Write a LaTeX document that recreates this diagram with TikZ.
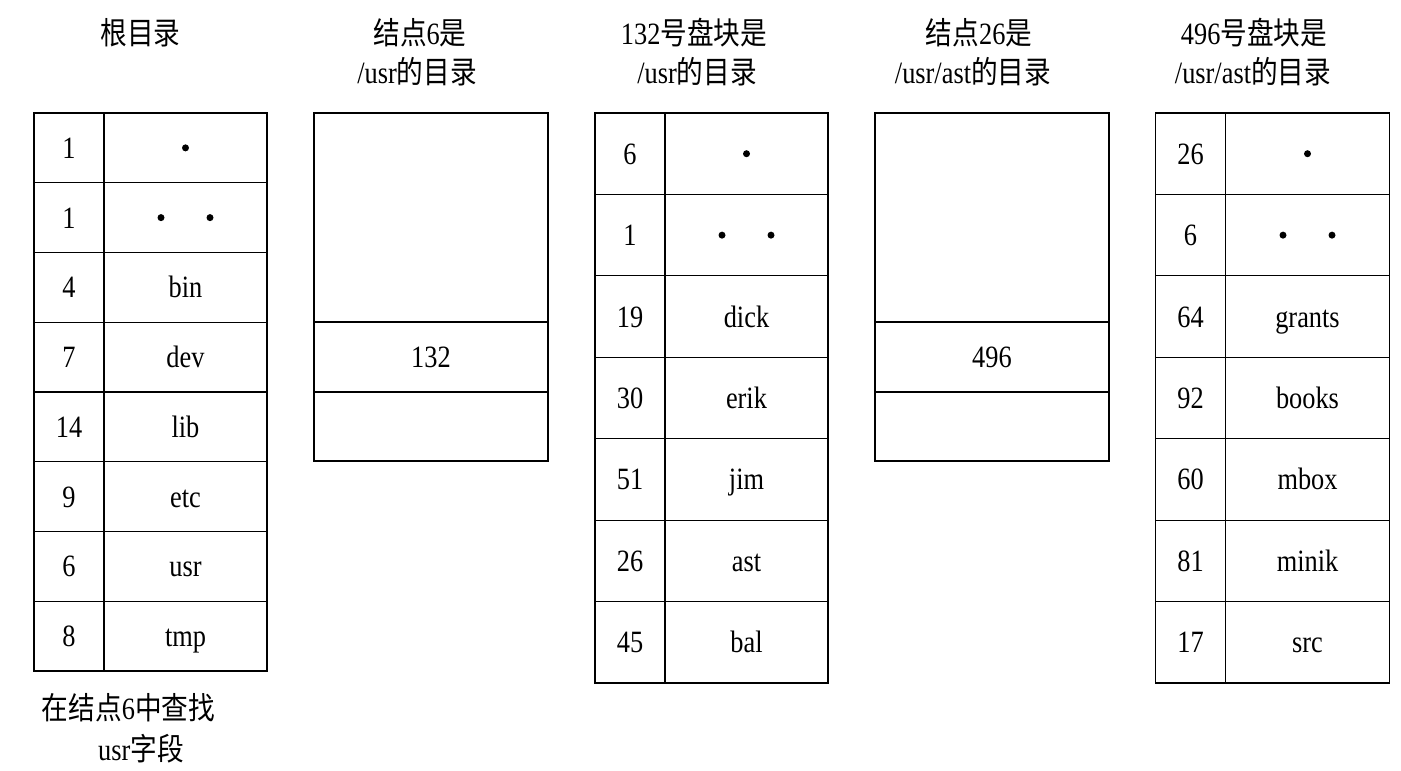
\documentclass[tikz,border=0pt]{standalone}
\usepackage{fontspec}
\setmainfont{Liberation Serif}[FakeStretch=0.85]
\newfontfamily\cjkfont{Noto Sans CJK SC}[FakeStretch=0.86]
\newcommand\zh[1]{{\cjkfont #1}}
\begin{document}
\begin{tikzpicture}[x=1pt,y=-1pt,
  every node/.style={font=\fontsize{31}{38}\selectfont, inner sep=0pt, outer sep=0pt},
  cell/.style={draw, line width=1.2pt, text height=21pt, text depth=0pt},
  ttl/.style={anchor=base},
  dotf/.style={fill=black}]
\useasboundingbox (0,0) rectangle (1401,771);

% titles
\node[ttl] (t1) at (140.5,44) {\zh{根目录}};
\node[ttl] (t2a) at (420,44) {\zh{结点}6\zh{是}};
\node[ttl] (t2b) at (417,83) {/usr\zh{的目录}};
\node[ttl] (t3a) at (694,44) {132\zh{号盘块是}};
\node[ttl] (t3b) at (697,83) {/usr\zh{的目录}};
\node[ttl] (t4a) at (979,44) {\zh{结点}26\zh{是}};
\node[ttl] (t4b) at (973,83) {/usr/ast\zh{的目录}};
\node[ttl] (t5a) at (1254,44) {496\zh{号盘块是}};
\node[ttl] (t5b) at (1253,83) {/usr/ast\zh{的目录}};

% table 1: root directory
\foreach \n/\s [count=\i] in {1/,1/,4/bin,7/dev,14/lib,9/etc,6/usr,8/tmp} {
  \pgfmathsetmacro\yc{113+(\i-0.5)*69.75}
  \node[cell, minimum width=70, minimum height=69.75] (a\i n) at (69,\yc) {\n};
  \node[cell, minimum width=163, minimum height=69.75] (a\i s) at (185.5,\yc) {\s};
}
\fill[dotf] (a1s.center) circle (3.5);
\fill[dotf] ([xshift=-24.5pt]a2s.center) circle (3.5);
\fill[dotf] ([xshift=24.5pt]a2s.center) circle (3.5);

% table 2: inode 6
\node[cell, minimum width=234, minimum height=209] (b1) at (431,217.5) {};
\node[cell, minimum width=234, minimum height=70] (b2) at (431,357) {132};
\node[cell, minimum width=234, minimum height=69] (b3) at (431,426.5) {};

% table 3: block 132
\foreach \n/\s [count=\i] in {6/,1/,19/dick,30/erik,51/jim,26/ast,45/bal} {
  \pgfmathsetmacro\yc{113+(\i-0.5)*81.43}
  \node[cell, minimum width=70, minimum height=81.43] (c\i n) at (630,\yc) {\n};
  \node[cell, minimum width=163, minimum height=81.43] (c\i s) at (746.5,\yc) {\s};
}
\fill[dotf] (c1s.center) circle (3.5);
\fill[dotf] ([xshift=-24.5pt]c2s.center) circle (3.5);
\fill[dotf] ([xshift=24.5pt]c2s.center) circle (3.5);

% table 4: inode 26
\node[cell, minimum width=234, minimum height=209] (d1) at (992,217.5) {};
\node[cell, minimum width=234, minimum height=70] (d2) at (992,357) {496};
\node[cell, minimum width=234, minimum height=69] (d3) at (992,426.5) {};

% table 5: block 496
\foreach \n/\s [count=\i] in {26/,6/,64/grants,92/books,60/mbox,81/minik,17/src} {
  \pgfmathsetmacro\yc{113+(\i-0.5)*81.43}
  \node[cell, minimum width=70, minimum height=81.43] (e\i n) at (1190.5,\yc) {\n};
  \node[cell, minimum width=164, minimum height=81.43] (e\i s) at (1307.5,\yc) {\s};
}
\fill[dotf] (e1s.center) circle (3.5);
\fill[dotf] ([xshift=-24.5pt]e2s.center) circle (3.5);
\fill[dotf] ([xshift=24.5pt]e2s.center) circle (3.5);

% bottom caption
\node[ttl] (cap1) at (128.5,719) {\zh{在结点}6\zh{中查找}};
\node[ttl] (cap2) at (141,760) {usr\zh{字段}};
\end{tikzpicture}
\end{document}
